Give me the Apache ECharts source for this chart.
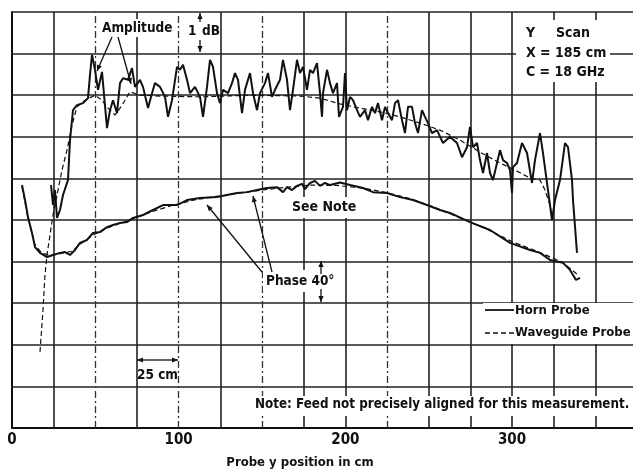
<!DOCTYPE html>
<html>
<head>
<meta charset="utf-8">
<script src="https://cdn.jsdelivr.net/npm/echarts@6/dist/echarts.min.js"></script>
<style>html,body{margin:0;padding:0;background:#fff}#c{width:633px;height:471px}</style>
</head>
<body>
<div id="c"></div>
<script>
// x: probe y position (cm); y: chart divisions (1 div = 1 dB amplitude, 40 deg phase)
const xTickLabels = [0, 100, 200, 300];
const xGridSolid = [25, 75, 125, 175, 200, 250, 275, 300, 325, 350];
const xGridDashed = [50, 100, 150, 225];

const hornAmp = [
 [23.4,5.84],[24.6,5.36],[25.8,5.72],[27,5.05],[28.8,5.24],[30.6,5.60],[33.6,5.96],[34.8,6.92],[36.6,7.64],
 [39,7.76],[42.6,7.81],[45.6,7.93],[46.8,8.49],[48,8.97],[49.8,8.61],[51.6,8.13],[54,8.56],[57,7.21],[58.8,7.64],
 [60.6,7.88],[63,7.57],[64.8,8.29],[66.6,8.41],[69.6,8.37],[72,8.65],[73.8,8.20],[76.8,8.37],[78.6,8.20],[81.6,7.69],
 [84.6,8.13],[85.8,8.29],[88.8,8.20],[91.8,7.96],[93.6,7.48],[96,7.88],[99,8.68],[100.8,8.61],[102.6,8.73],[105,8.37],
 [106.8,8.05],[109.8,8.20],[112.8,7.96],[114.6,7.48],[117,8.20],[118.8,8.85],[120.6,8.68],[123,8.05],[124.8,7.81],
 [126.6,8.13],[129.6,8.05],[132,8.29],[133.8,8.53],[135.6,8.37],[138,7.57],[139.8,8.13],[142.8,8.53],[144.6,8.05],
 [147,7.64],[148.8,8.05],[151.8,8.29],[153.6,8.53],[156,7.96],[157.8,8.13],[160.8,8.37],[162.6,8.85],[165,8.37],
 [166.8,7.64],[168.6,8.13],[171,8.85],[172.8,8.53],[174.6,8.68],[177,8.13],[178.8,8.61],[180.6,8.53],[183,8.77],
 [184.8,8.05],[186,7.48],[186.6,8.05],[189,8.61],[190.8,8.29],[192.6,8.05],[195,8.29],[196.2,7.48],[198.6,7.72],
 [199.8,8.53],[201,7.64],[202.8,7.96],[204.6,7.88],[207,7.64],[208.8,7.48],[211.8,7.64],[213.6,7.40],[216,7.72],
 [217.8,7.57],[219.6,7.81],[222,7.40],[223.8,7.72],[225.6,7.57],[228,7.40],[229.8,7.81],[231.6,7.88],[234,7.40],
 [235.8,7.09],[237.6,7.72],[240,7.72],[241.8,7.33],[243.6,7.09],[246,7.64],[247.8,7.48],[249.6,7.33],[252,7.09],
 [255,7.16],[258.6,6.85],[262.8,7.00],[267,6.85],[270,6.51],[273,6.75],[274.8,7.24],[276.6,6.75],[279,6.85],
 [280.8,6.44],[282.6,6.13],[285,6.61],[286.8,6.13],[288.6,5.96],[291,6.37],[292.8,6.68],[294.6,6.44],[297,6.37],
 [298.8,6.20],[300,5.65],[300.6,6.27],[303,6.37],[306,6.85],[309,6.61],[312,5.89],[313.8,6.44],[316.8,7.09],
 [318.6,6.61],[321,5.89],[324,5.00],[325.8,5.48],[328.8,5.96],[331.8,6.85],[333.6,6.75],[336,5.96],[336.6,5.48],[339,4.21]
];

const guideAmp = [
 [16.8,1.83],[18.6,2.84],[19.8,3.68],[21,4.16],[22.8,4.64],[24.6,5.12],[27,5.60],[30,6.20],[33,6.68],[36,7.28],
 [39,7.72],[43.8,7.88],[49.8,8.00],[54,7.88],[57.6,7.69],[61.8,7.52],[66,7.76],[70.8,8.08],[76.8,8.00],[88.8,7.98],
 [112.8,7.96],[142.8,8.00],[172.8,7.98],[184.8,7.93],[196.8,7.79],[208.8,7.69],[220.8,7.60],[232.8,7.48],[244.8,7.33],
 [256.8,7.16],[268.8,6.92],[280.8,6.63],[292.8,6.37],[301.8,6.20],[310.8,6.01],[316.8,5.96],[319.8,5.72],[322.8,5.36],[324.6,5.00]
];

const hornPhase = [
 [6,5.84],[7.8,5.48],[9.6,5.07],[12,4.69],[13.8,4.35],[16.8,4.21],[21,4.11],[24.6,4.16],[28.8,4.21],[31.8,4.23],
 [34.8,4.16],[37.8,4.28],[40.8,4.45],[45,4.52],[48.6,4.69],[52.8,4.71],[57,4.83],[60.6,4.88],[64.8,4.93],[69,4.95],
 [72.6,5.05],[78.6,5.12],[84.6,5.24],[90.6,5.36],[99,5.36],[105,5.48],[112.8,5.53],[123,5.55],[129,5.60],[135,5.65],
 [141,5.67],[147,5.72],[153,5.77],[159,5.79],[162.6,5.67],[165,5.79],[168,5.72],[171,5.82],[174,5.87],[175.8,5.74],
 [178.8,5.89],[181.8,5.94],[184.8,5.82],[187.8,5.89],[190.8,5.84],[196.8,5.90],[202.8,5.84],[210.6,5.77],[216.6,5.67],
 [225,5.65],[232.8,5.55],[240.6,5.48],[249,5.36],[256.8,5.24],[262.8,5.17],[274.8,4.95],[286.8,4.76],[298.8,4.45],
 [310.8,4.28],[316.8,4.21],[322.8,4.04],[330.6,3.97],[334.8,3.80],[338.4,3.56],[340.8,3.61]
];

const guidePhase = [
 [6,5.80],[9.6,5.05],[13.8,4.40],[18,4.20],[24,4.15],[30,4.20],[36,4.25],[42,4.45],[48,4.62],[54,4.75],[60,4.85],
 [72,5.02],[84,5.20],[96,5.35],[108,5.47],[120,5.55],[135,5.64],[150,5.72],[165,5.79],[180,5.84],[195,5.83],
 [210,5.77],[225,5.66],[240,5.50],[255,5.28],[270,5.03],[285,4.78],[300,4.48],[315,4.25],[330,3.99],[339,3.70]
];

const FONT = "'Liberation Sans Narrow','DejaVu Sans Condensed','Liberation Sans',sans-serif";
const INK = '#111';

function txt(text, x, y, size, align) {
  return {type:'text', x:x, y:y, z:120,
    style:{text:text, fill:INK, fontFamily:FONT, fontWeight:'bold', fontSize:size,
      textAlign:align||'left', textVerticalAlign:'middle'}};
}
function box(x, y, w, h) {
  return {type:'rect', z:105, shape:{x:x, y:y, width:w, height:h}, style:{fill:'#fff'}};
}
function arrow(x1, y1, x2, y2) {
  const a = Math.atan2(y2 - y1, x2 - x1), L = 6, W = 2.6;
  const bx = x2 - L * Math.cos(a), by = y2 - L * Math.sin(a);
  return [
    {type:'line', z:115, shape:{x1:x1, y1:y1, x2:x2, y2:y2}, style:{stroke:INK, lineWidth:1.3}},
    {type:'polygon', z:115, shape:{points:[[x2,y2],[bx + W*Math.sin(a), by - W*Math.cos(a)],[bx - W*Math.sin(a), by + W*Math.cos(a)]]}, style:{fill:INK}}
  ];
}

const vLines = xGridSolid.map(v => ({xAxis:v, lineStyle:{color:'#222', width:1.6, type:'solid'}}))
  .concat(xGridDashed.map(v => ({xAxis:v, lineStyle:{color:'#333', width:1.3, type:[7,3,2,3]}})));

const graphics = [
  box(100, 19, 70, 18), box(516, 20, 94, 62), box(289, 197, 66, 21), box(263, 270, 76, 22),
  box(483, 303, 150, 41), box(252, 396, 381, 20),
  txt('Amplitude', 102, 28, 13.5),
  txt('1', 188, 31, 13.5), txt('dB', 202, 31, 13.5),
  txt('Y', 526, 33, 14), txt('Scan', 556, 33, 14),
  txt('X = 185 cm', 526, 53, 14), txt('C = 18 GHz', 526, 72, 14),
  txt('See Note', 292, 207, 14),
  txt('Phase 40°', 266, 281, 13.5),
  txt('25 cm', 137, 375, 13.5),
  txt('Horn Probe', 515, 311, 13),
  txt('Waveguide Probe', 515, 333, 13),
  txt('Note: Feed not precisely aligned for this measurement.', 255, 405, 13.3),
  txt('Probe y position in cm', 300, 463, 13, 'center'),
  {type:'line', z:115, shape:{x1:485, y1:310, x2:514, y2:310}, style:{stroke:INK, lineWidth:1.8}},
  {type:'line', z:115, shape:{x1:485, y1:333, x2:514, y2:333}, style:{stroke:INK, lineWidth:1.3, lineDash:[5,3]}}
].concat(
  arrow(112, 37, 97, 71), arrow(118, 37, 131, 84),
  arrow(200, 22, 200, 13), arrow(200, 40, 200, 52),
  arrow(262, 272, 207, 205), arrow(272, 272, 253, 196),
  arrow(321, 274, 321, 261), arrow(321, 289, 321, 302),
  arrow(158, 360, 137, 360), arrow(158, 360, 178, 360)
);

const chart = echarts.init(document.getElementById('c'), null, {renderer:'canvas'});
chart.setOption({
  animation:false,
  backgroundColor:'#fff',
  grid:{left:12, top:12, right:0, height:416, show:false},
  xAxis:{type:'value', min:0, max:372.6, interval:25,
    axisLine:{show:true, lineStyle:{color:INK, width:2}}, axisTick:{show:false},
    splitLine:{show:false},
    axisLabel:{margin:5, color:INK, fontFamily:FONT, fontWeight:'bold', fontSize:15, showMaxLabel:false,
      formatter:v => xTickLabels.indexOf(v) >= 0 ? String(v) : ''}},
  yAxis:{type:'value', min:0, max:10, interval:1,
    axisLine:{show:true, lineStyle:{color:INK, width:2}}, axisTick:{show:false}, axisLabel:{show:false},
    splitLine:{show:true, lineStyle:{color:'#222', width:1.6}}},
  graphic:graphics,
  series:[
    {type:'line', name:'Waveguide Probe amplitude', data:guideAmp, symbol:'none', z:3,
      lineStyle:{color:INK, width:1.2, type:[5,3]}},
    {type:'line', name:'Waveguide Probe phase', data:guidePhase, symbol:'none', z:3,
      lineStyle:{color:INK, width:1.2, type:[5,3]},
      markLine:{silent:true, symbol:['none','none'], label:{show:false}, data:vLines, z:1}},
    {type:'line', name:'Horn Probe amplitude', data:hornAmp, symbol:'none', z:4,
      lineStyle:{color:INK, width:2}},
    {type:'line', name:'Horn Probe phase', data:hornPhase, symbol:'none', z:4,
      lineStyle:{color:INK, width:2}}
  ]
});
</script>
</body>
</html>
